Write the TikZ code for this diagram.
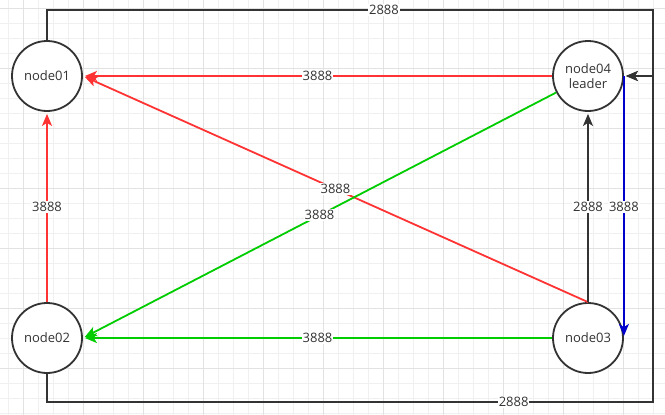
\documentclass[tikz,border=0pt]{standalone}
\usepackage{fontspec}
\setmainfont{Open Sans}
\usetikzlibrary{arrows.meta}
\definecolor{linered}{HTML}{FF3333}
\definecolor{linegreen}{HTML}{00CC00}
\definecolor{lineblue}{HTML}{0000CC}
\definecolor{linedark}{HTML}{333333}
\definecolor{gridminor}{HTML}{F0F0F0}
\definecolor{gridmajor}{HTML}{E2E2E2}
\tikzset{
  srv/.style={circle,draw=linedark,fill=white,line width=1.8pt,minimum size=70pt,inner sep=0pt,
    align=center,text=linedark,font=\fontsize{13}{15}\selectfont},
  lbl/.style={fill=white,inner sep=1pt,text=linedark,font=\fontsize{13}{15}\selectfont},
  link/.style={line width=1.8pt,-{Stealth[length=12pt,width=10pt,inset=3pt]},shorten >=2pt},
}
\begin{document}
\begin{tikzpicture}[x=1pt,y=-1pt]
  \useasboundingbox (0,0) rectangle (665,415);
  % background grid
  \foreach \x in {8.33,23.33,...,665} \draw[gridminor,line width=0.8pt] (\x,0) -- (\x,415);
  \foreach \y in {8.33,23.33,...,415} \draw[gridminor,line width=0.8pt] (0,\y) -- (665,\y);
  \foreach \x in {23.33,83.33,...,665} \draw[gridmajor,line width=0.8pt] (\x,0) -- (\x,415);
  \foreach \y in {8.33,68.33,...,415} \draw[gridmajor,line width=0.8pt] (0,\y) -- (665,\y);
  % servers
  \node[srv] (n01) at (47,76) {node01};
  \node[srv] (n02) at (47,338) {node02};
  \node[srv] (n03) at (588,338) {node03};
  \node[srv] (n04) at (588,76) {node04\\leader};
  \coordinate (tr) at (653,10);
  \coordinate (br) at (653,402);
  % heartbeat loops
  \draw[link,linedark] (n01.north) -- (n01.north |- tr) -- node[lbl,pos=0.556]{2888} (tr) |- (n04.east);
  \draw[link,linedark] (n02.south) -- (n02.south |- br) -- node[lbl,pos=0.77]{2888} (br) |- (n04.east);
  % links
  \draw[link,linered] (n04) -- node[lbl]{3888} (n01);
  \draw[link,linered] (n03.north) -- node[lbl]{3888} (n01.east);
  \draw[link,linered] (n02) -- node[lbl]{3888} (n01);
  \draw[link,linegreen] (n04) -- node[lbl]{3888} (n02.east);
  \draw[link,linegreen] (n03) -- node[lbl]{3888} (n02);
  \draw[link,linedark] (n03) -- node[lbl]{2888} (n04);
  \draw[link,lineblue] (n04.east) -- node[lbl]{3888} (n03.east);
\end{tikzpicture}
\end{document}
